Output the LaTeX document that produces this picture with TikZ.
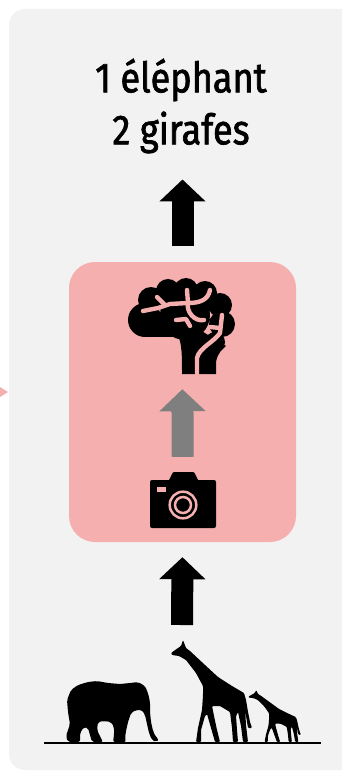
\documentclass[tikz,border=0pt]{standalone}
\usepackage{fontspec}
\setmainfont{Fira Sans}[FakeStretch=0.86,FakeBold=1.6]
\usepackage{tikz}
\usetikzlibrary{arrows.meta,positioning}
\definecolor{panelgray}{HTML}{F2F2F2}
\definecolor{modelpink}{HTML}{F6AFAF}
\definecolor{stepgray}{HTML}{7F7F7F}
\tikzset{
  modelbox/.style={fill=modelpink,rounded corners=26pt,minimum width=227pt,minimum height=280pt,inner sep=0pt},
  iconspot/.style={inner sep=0pt},
  bigarrow/.style={line width=22pt,-{Triangle[width=45pt,length=22pt]},draw=black},
  vein/.style={draw=modelpink,line width=4.4pt,line cap=round,line join=round},
  giraffe/.pic={
    \fill[rounded corners=1pt] (11,-102) -- (14,-94) -- (18,-91) -- (33,-77) -- (46,-65) -- (60,-56)
      -- (72,-49) -- (74,-42) -- (76,-30) -- (78,-20) -- (80,-14) -- (76,-14) -- (74,-26) -- (73,-34)
      -- (74,-17) -- (76,0) -- (71,0) -- (69,-16) -- (66,-30) -- (64,-26) -- (65,-12) -- (66,0)
      -- (61,0) -- (60,-14) -- (58,-30) -- (48,-36) -- (40,-36) -- (42,-26) -- (45,-12) -- (48,0)
      -- (43,0) -- (39,-14) -- (35,-28) -- (33,-26) -- (29,-12) -- (29,0) -- (24,0) -- (26,-14)
      -- (30,-32) -- (31,-47) -- (31,-56) -- (24,-69) -- (14,-82) -- (7,-86) -- (0,-87) -- (-1,-89)
      -- (6,-94) -- (9,-96) -- cycle;
  },
}

\begin{document}
\begin{tikzpicture}[x=1pt,y=-1pt]
  \useasboundingbox (0,0) rectangle (341,773);
  \fill[panelgray,rounded corners=16pt] (9,9) rectangle (370,770);
  \fill[modelpink] (0,387) -- (8,392) -- (0,397) -- cycle;

  \node[font=\fontsize{42}{52}\selectfont,align=center,inner sep=0pt] (result) at (181,106) {1 éléphant\\2 girafes};
  \node[modelbox] (model) at (182.5,402) {};
  \node[iconspot,minimum width=108pt,minimum height=95pt] (brain) at (182,326.5) {};
  \node[iconspot,minimum width=66pt,minimum height=56pt] (camera) at (183,500) {};
  \coordinate (herd) at (182,640);

  % brain
  \fill (145,320) circle (17) (151,300) circle (13) (168,291) circle (12) (186,290) circle (12)
    (205,293) circle (12) (220,305) circle (12) (222,324) circle (13) (215,342) circle (10)
    (185,315) circle (25) (163,325) circle (12);
  \fill (145,320) rectangle (180,337);
  \fill (178,335) .. controls (182,345) and (182,355) .. (182,374) -- (216,374) -- (216,362)
    .. controls (218,352) and (222,350) .. (226,346) -- (200,330) -- cycle;
  \draw[vein] (143,311) -- (158,308) -- (170,304) -- (188,303);
  \draw[vein] (157,297) -- (165,305);
  \draw[vein] (187,290) -- (188,303) .. controls (200,303) and (208,300) .. (210,290);
  \draw[vein] (176,320) -- (186,319) -- (190,326);
  \draw[vein] (188,303) .. controls (186,312) and (195,322) .. (204,320);
  \draw[vein] (197,374) -- (197,358) .. controls (199,348) and (214,342) .. (220,333) -- (222,315);
  \draw[vein] (210,327) -- (220,328);

  % camera
  \fill[rounded corners=2pt] (150,480) rectangle (216,528);
  \fill[rounded corners=1pt] (168,482) -- (173,472) -- (194,472) -- (199,482) -- cycle;
  \fill[modelpink] (157,487) rectangle (166,492);
  \draw[modelpink,line width=2.5pt] (183,505) circle (13.3) (183,505) circle (8);

  % animals on the ground
  \fill[rounded corners=2pt] (68,742) -- (66,736) -- (70,724) -- (68,712) -- (67,700) -- (71,690)
    -- (78,685) -- (88,682) -- (97,681) -- (108,683) -- (120,684) -- (130,683) -- (138,682)
    -- (145,686) -- (148,693) -- (150,702) -- (150,712) -- (151,722) -- (153,731) -- (156,737)
    -- (159,740) -- (156,742) -- (152,740) -- (149,733) -- (147,724) -- (145,715) -- (142,710)
    -- (136,710) -- (131,713) -- (128,722) -- (126,731) -- (125,738) -- (126,742) -- (113,742)
    -- (114,735) -- (114,727) -- (111,722) -- (104,721) -- (98,722) -- (97,730) -- (101,738)
    -- (103,742) -- (92,742) -- (90,735) -- (88,728) -- (84,727) -- (80,733) -- (80,742) -- cycle;
  \pic at (172,742) {giraffe};
  \pic[xscale=0.65,yscale=0.51] at (249,742) {giraffe};
  \draw[line width=2.7pt] (44,743) -- (321,743);

  \draw[bigarrow,shorten <=15pt,shorten >=15pt] (herd) -- (model.south);
  \draw[bigarrow,draw=stepgray,shorten <=15pt,shorten >=15pt] (camera) -- (brain);
  \draw[bigarrow,shorten <=16pt,shorten >=26pt] (model.north) -- (result.south -| model.north);
\end{tikzpicture}
\end{document}
